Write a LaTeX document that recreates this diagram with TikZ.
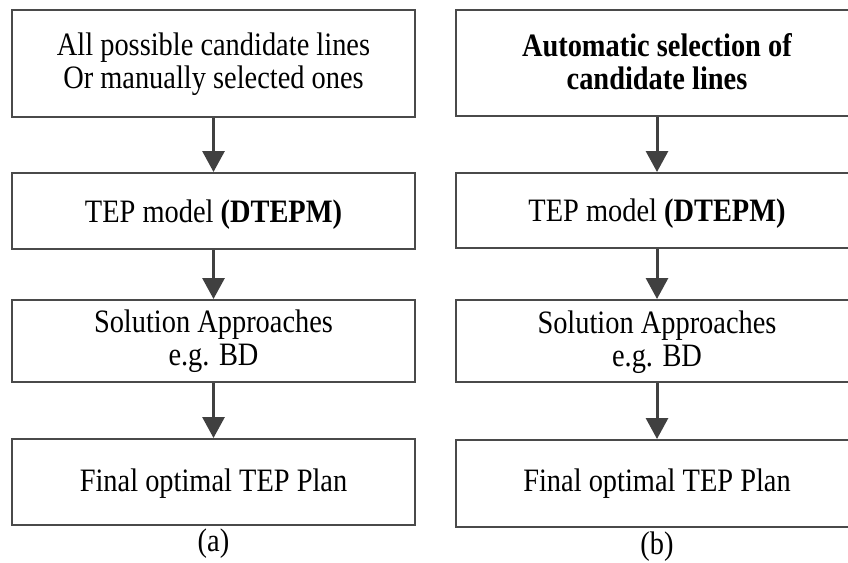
\documentclass[tikz,border=0pt]{standalone}
\usepackage{fontspec}
\usepackage{graphicx}
\setmainfont{Liberation Serif}
\usetikzlibrary{arrows.meta}
\definecolor{edgegray}{HTML}{4A4A4A}
\definecolor{arrowgray}{HTML}{404040}
% text set slightly tall; first baseline placed #1 below the box centre
\newcommand\tallrows[1]{\scalebox{1}[1.15]{\begin{tabular}[t]{@{}c@{}}#1\end{tabular}}}
\newcommand\boxtext[2]{\raisebox{-#1}[0pt][0pt]{\tallrows{#2}}}
\tikzset{
  stepbox/.style={draw=edgegray, line width=2pt, rectangle, minimum width=403pt,
    inner sep=0pt, font=\fontsize{28.4}{28.7}\selectfont},
  flow/.style={draw=arrowgray, line width=3pt,
    -{Triangle[length=21pt,width=22pt]}},
  caption/.style={font=\fontsize{28.4}{28.7}\selectfont, inner sep=0pt, anchor=base}
}
\begin{document}
\begin{tikzpicture}[x=1pt,y=-1pt]
\useasboundingbox (0,0) rectangle (848,562);
\begin{scope}
\clip (0,0) rectangle (848,562);
% left column (a)
\node[stepbox, minimum height=107pt] (a1) at (213.5,63.5)
  {\boxtext{-8.5pt}{All possible candidate lines\\Or manually selected ones}};
\node[stepbox, minimum height=76pt]  (a2) at (213.5,211)
  {\boxtext{11.5pt}{TEP model \textbf{(DTEPM)}}};
\node[stepbox, minimum height=82pt]  (a3) at (213.5,341)
  {\boxtext{-8.3pt}{Solution Approaches\\e.g. BD}};
\node[stepbox, minimum height=86pt]  (a4) at (213.5,482)
  {\boxtext{9.7pt}{Final optimal TEP Plan}};
\node[caption] (capa) at (213.5,551) {\tallrows{(a)}};
% right column (b)
\node[stepbox, minimum height=106pt] (b1) at (657,63)
  {\boxtext{-6.3pt}{\textbf{Automatic selection of}\\\textbf{candidate lines}}};
\node[stepbox, minimum height=75pt]  (b2) at (657,210.5)
  {\boxtext{11.2pt}{TEP model \textbf{(DTEPM)}}};
\node[stepbox, minimum height=82pt]  (b3) at (657,341)
  {\boxtext{-7.7pt}{Solution Approaches\\e.g. BD}};
\node[stepbox, minimum height=87pt]  (b4) at (657,483.5)
  {\boxtext{8.2pt}{Final optimal TEP Plan}};
\node[caption] (capb) at (657,554) {\tallrows{(b)}};
% connectors
\draw[flow] (a1) -- (a2);
\draw[flow] (a2) -- (a3);
\draw[flow] (a3) -- (a4);
\draw[flow] (b1) -- (b2);
\draw[flow] (b2) -- (b3);
\draw[flow] (b3) -- (b4);
\end{scope}
\end{tikzpicture}
\end{document}
